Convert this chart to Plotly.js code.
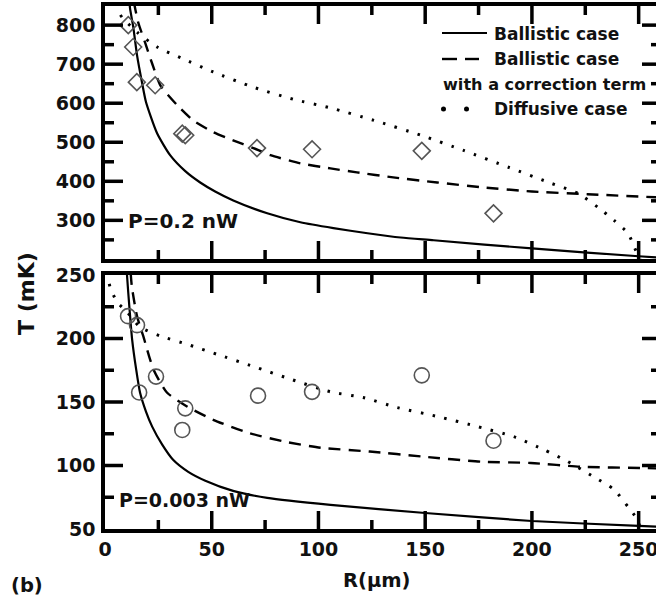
<!DOCTYPE html>
<html>
<head>
<meta charset="utf-8">
<script src="https://cdn.plot.ly/plotly-3.0.1.min.js"></script>
<style>
  html, body { margin: 0; padding: 0; overflow: hidden; background: #fff; }
  #chart { width: 662px; height: 601px; }
</style>
</head>
<body>
<div id="chart"></div>
<script>
// ---------- data ----------
// Top panel, P = 0.2 nW
const topDataR = [10.9, 13.2, 14.9, 23.5, 36.2, 37.6, 71.2, 97, 148.4, 182];
const topDataT = [800, 744, 654, 646, 522, 518, 485, 482, 478, 318];

const topBallisticR = [11.4, 11.7, 13.3, 15, 17.3, 19.2, 24.4, 30.5, 37.6, 44.6, 51.6, 60.1, 76, 91.5, 107, 123, 138.5, 154, 200, 250, 262];
const topBallisticT = [870, 844, 793, 723, 654, 603, 523, 467, 426, 397, 374, 351, 318, 295, 280, 267, 256, 249, 228, 208, 204];

const topCorrR = [13.5, 15.5, 18.8, 22, 26, 33.8, 41.3, 50.7, 60, 69.5, 77.5, 91.5, 105.6, 118, 135, 155.6, 176, 200, 226, 262];
const topCorrT = [860, 808, 755, 703, 645, 595, 556, 526, 505, 485, 467, 446, 433, 423, 410, 397, 385, 374, 367, 358];

const topDiffR = [7.2, 8, 15, 24.4, 36, 50.7, 69.5, 88.3, 105.6, 126, 148, 168, 189, 209, 221.6, 231, 238.5, 245, 248, 251];
const topDiffT = [826, 820, 782, 744, 715, 680, 641, 610, 588, 556, 518, 479, 436, 395, 369, 333, 300, 267, 231, 195];

// Bottom panel, P = 0.003 nW
const botDataR = [10.8, 15, 16, 23.9, 37.6, 36.2, 71.7, 97, 148.4, 182];
const botDataT = [217.6, 210.5, 157.5, 170, 145, 128, 155, 158, 171, 119.5];

const botBallisticR = [10.1, 10.3, 11.5, 12.7, 14.6, 16.4, 19.2, 22.1, 26.8, 31.9, 39, 47, 60, 76, 105.6, 150, 200, 250, 262];
const botBallisticT = [260, 250, 223, 199.4, 175.7, 157.5, 142.5, 130.6, 116.4, 104.5, 95, 88, 80, 74.5, 69, 62.6, 56.3, 52.4, 51.6];

const botCorrR = [12, 12.6, 15, 17.9, 22.7, 29, 38.4, 50.7, 66.6, 83.6, 101, 124, 149, 176, 199.5, 223, 252.6, 262];
const botCorrT = [252, 240.5, 217.6, 202, 175.7, 157.5, 146.5, 136, 126, 119, 114, 111, 107, 103, 102, 99, 98, 97.5];

const botDiffR = [2, 2.3, 5.5, 10.3, 16.4, 25.8, 38.4, 52.6, 69.5, 86.9, 105.6, 121, 137, 156, 174.6, 191.5, 205.6, 216.9, 229, 238.5, 245, 248.8, 251.5];
const botDiffT = [243, 241, 229, 221, 209, 202, 195.5, 187.5, 178, 168, 158, 153.5, 145.6, 138.5, 130.6, 122.7, 112.5, 103, 91, 81, 67.5, 59, 48];

// Tick values (major, labelled) and minor tick values
const xTicks = [0, 50, 100, 150, 200, 250];
const xMinor = [25, 75, 125, 175, 225];
const yTopTicks = [300, 400, 500, 600, 700, 800];
const yTopMinor = [250, 350, 450, 550, 650, 750];
const yBotTicks = [50, 100, 150, 200, 250];
const yBotMinor = [75, 125, 175, 225];

const legendLabels = ["Ballistic case", "Ballistic case", "with a correction term", "Diffusive case"];
const panelLabels = ["P=0.2 nW", "P=0.003 nW"];

// ---------- geometry helpers (pixel -> paper) ----------
const W = 662, H = 601, ML = 105, MR = 2, MT = 6, MB = 72;
const PW = W - ML - MR, PH = H - MT - MB;
const px = x => (x - ML) / PW;
const py = y => (H - MB - y) / PH;

const FONT = 'DejaVu Sans';
const lineStyle = {
  solid: {color: '#000', width: 2.2, dash: 'solid'},
  dash: {color: '#000', width: 2.4, dash: '12px,8px'},
  dot: {color: '#000', width: 3, dash: '2.5px,9.5px'}
};

function curve(x, y, style, xa, ya) {
  return {x, y, xaxis: xa, yaxis: ya, type: 'scatter', mode: 'lines',
          line: Object.assign({shape: 'spline', smoothing: 0.6}, style),
          showlegend: false, hoverinfo: 'skip'};
}
function pts(x, y, symbol, size, xa, ya) {
  return {x, y, xaxis: xa, yaxis: ya, type: 'scatter', mode: 'markers',
          marker: {symbol, size, color: '#555', line: {color: '#555', width: 1.6}},
          showlegend: false, hoverinfo: 'skip'};
}

const XR = [0, 260], YTR = [201, 849], YBR = [50, 250];
const topDomain = [py(259), 1];
const botDomain = [0, py(275)];

const traces = [
  curve(topBallisticR, topBallisticT, lineStyle.solid, 'x', 'y'),
  curve(topCorrR, topCorrT, lineStyle.dash, 'x', 'y'),
  curve(topDiffR, topDiffT, lineStyle.dot, 'x', 'y'),
  pts(topDataR, topDataT, 'diamond-open', 13, 'x', 'y'),
  curve(botBallisticR, botBallisticT, lineStyle.solid, 'x2', 'y2'),
  curve(botCorrR, botCorrT, lineStyle.dash, 'x2', 'y2'),
  curve(botDiffR, botDiffT, lineStyle.dot, 'x2', 'y2'),
  pts(botDataR, botDataT, 'circle-open', 15, 'x2', 'y2')
];

// Inside tick marks on all four sides of a panel, placed through the axis ranges
const MAJ = 18, MIN = 9, TW = 3.5;
function tickShapes(xr, yr, dom, xMaj, xMin, yMaj, yMin) {
  const s = [];
  const ln = {color: '#000', width: TW};
  const fx = v => (v - xr[0]) / (xr[1] - xr[0]);
  const fy = v => dom[0] + (v - yr[0]) / (yr[1] - yr[0]) * (dom[1] - dom[0]);
  const addX = (v, len) => {
    if (v <= xr[0] || v >= xr[1]) return;
    const x = fx(v), l = len / PH;
    s.push({type: 'line', xref: 'paper', yref: 'paper', x0: x, x1: x, y0: dom[0], y1: dom[0] + l, line: ln});
    s.push({type: 'line', xref: 'paper', yref: 'paper', x0: x, x1: x, y0: dom[1], y1: dom[1] - l, line: ln});
  };
  const addY = (v, len) => {
    if (v <= yr[0] || v >= yr[1]) return;
    const y = fy(v), l = len / PW;
    s.push({type: 'line', xref: 'paper', yref: 'paper', x0: 0, x1: l, y0: y, y1: y, line: ln});
    s.push({type: 'line', xref: 'paper', yref: 'paper', x0: 1, x1: 1 - l, y0: y, y1: y, line: ln});
  };
  xMaj.forEach(v => addX(v, MAJ)); xMin.forEach(v => addX(v, MIN));
  yMaj.forEach(v => addY(v, MAJ)); yMin.forEach(v => addY(v, MIN));
  return s;
}

const tickFont = {family: FONT, size: 19, weight: 'bold', color: '#111'};

function ax(o) {
  return Object.assign({
    showline: true, linecolor: '#000', linewidth: 3.5, mirror: true,
    ticks: '', tickmode: 'array', showgrid: false, zeroline: false,
    showticklabels: true, tickfont: tickFont, fixedrange: true
  }, o);
}

const legendShapes = [
  {type: 'line', xref: 'paper', yref: 'paper', x0: px(442), x1: px(487), y0: py(33), y1: py(33),
   line: {color: '#000', width: 2.2}},
  {type: 'line', xref: 'paper', yref: 'paper', x0: px(442), x1: px(457), y0: py(59), y1: py(59),
   line: {color: '#000', width: 2.4}},
  {type: 'line', xref: 'paper', yref: 'paper', x0: px(465), x1: px(479), y0: py(59), y1: py(59),
   line: {color: '#000', width: 2.4}},
  {type: 'circle', xref: 'paper', yref: 'paper', x0: px(441), x1: px(446), y0: py(106.5), y1: py(111.5),
   fillcolor: '#000', line: {width: 0}},
  {type: 'circle', xref: 'paper', yref: 'paper', x0: px(464), x1: px(469), y0: py(106.5), y1: py(111.5),
   fillcolor: '#000', line: {width: 0}}
];

const layout = {
  width: W, height: H,
  margin: {l: ML, r: MR, t: MT, b: MB, pad: 0},
  paper_bgcolor: '#fff', plot_bgcolor: '#fff',
  showlegend: false,
  xaxis:  ax({anchor: 'y', domain: [0, 1], range: XR, tickvals: xTicks, showticklabels: false}),
  yaxis:  ax({anchor: 'x', domain: topDomain, range: YTR, tickvals: yTopTicks, ticklabelstandoff: 2}),
  xaxis2: ax({anchor: 'y2', domain: [0, 1], range: XR, tickvals: xTicks, ticklabelstandoff: 0}),
  yaxis2: ax({anchor: 'x2', domain: botDomain, range: YBR, tickvals: yBotTicks, ticklabelstandoff: 2}),
  shapes: [].concat(
    tickShapes(XR, YTR, topDomain, xTicks, xMinor, yTopTicks, yTopMinor),
    tickShapes(XR, YBR, botDomain, xTicks, xMinor, yBotTicks, yBotMinor),
    legendShapes
  ),
  annotations: [
    {text: legendLabels[0], xref: 'paper', yref: 'paper', x: px(492), y: py(34), xanchor: 'left', yanchor: 'middle',
     showarrow: false, font: {family: FONT, size: 17, weight: 'bold', color: '#111'}},
    {text: legendLabels[1], xref: 'paper', yref: 'paper', x: px(492), y: py(59), xanchor: 'left', yanchor: 'middle',
     showarrow: false, font: {family: FONT, size: 17, weight: 'bold', color: '#111'}},
    {text: legendLabels[2], xref: 'paper', yref: 'paper', x: px(441), y: py(84), xanchor: 'left', yanchor: 'middle',
     showarrow: false, font: {family: FONT, size: 16.1, weight: 'bold', color: '#111'}},
    {text: legendLabels[3], xref: 'paper', yref: 'paper', x: px(492), y: py(109), xanchor: 'left', yanchor: 'middle',
     showarrow: false, font: {family: FONT, size: 17, weight: 'bold', color: '#111'}},
    {text: panelLabels[0], xref: 'paper', yref: 'paper', x: px(126), y: py(221), xanchor: 'left', yanchor: 'middle',
     showarrow: false, font: {family: FONT, size: 20, weight: 'bold', color: '#111'}},
    {text: panelLabels[1], xref: 'paper', yref: 'paper', x: px(117), y: py(500), xanchor: 'left', yanchor: 'middle',
     showarrow: false, font: {family: FONT, size: 19, weight: 'bold', color: '#111'}},
    {text: 'T (mK)', xref: 'paper', yref: 'paper', x: px(26), y: py(294), xanchor: 'center', yanchor: 'middle',
     textangle: -90, showarrow: false, font: {family: FONT, size: 22, weight: 'bold', color: '#111'}},
    {text: 'R(\u03bcm)', xref: 'paper', yref: 'paper', x: px(377), y: py(580), xanchor: 'center', yanchor: 'middle',
     showarrow: false, font: {family: FONT, size: 19.5, weight: 'bold', color: '#111'}},
    {text: '(b)', xref: 'paper', yref: 'paper', x: px(27), y: py(585), xanchor: 'center', yanchor: 'middle',
     showarrow: false, font: {family: FONT, size: 19.5, weight: 'bold', color: '#111'}}
  ]
};

Plotly.newPlot('chart', traces, layout, {displayModeBar: false});
</script>
</body>
</html>
